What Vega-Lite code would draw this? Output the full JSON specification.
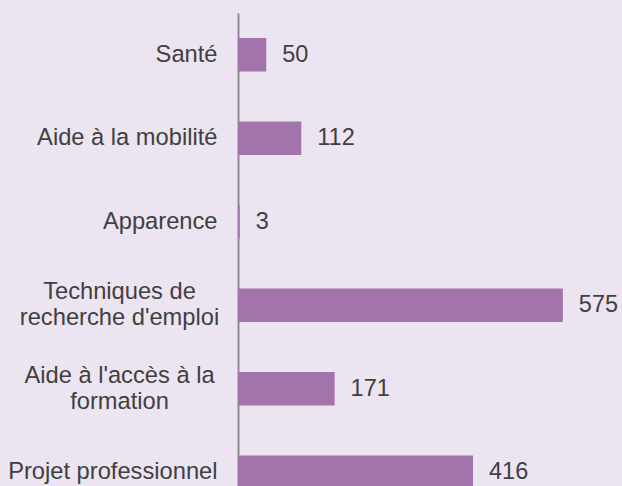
{
  "$schema": "https://vega.github.io/schema/vega-lite/v6.json",
  "autosize": "none",
  "width": 374,
  "height": 501,
  "padding": {"left": 238, "top": 13, "right": 10, "bottom": 0},
  "background": "#ece4f0",
  "config": {"view": {"stroke": null}, "font": "Liberation Sans"},
  "data": {
    "values": [
      {"categorie": "Santé", "valeur": 50},
      {"categorie": "Aide à la mobilité", "valeur": 112},
      {"categorie": "Apparence", "valeur": 3},
      {"categorie": "Techniques de|recherche d'emploi", "valeur": 575},
      {"categorie": "Aide à l'accès à la|formation", "valeur": 171},
      {"categorie": "Projet professionnel", "valeur": 416}
    ]
  },
  "encoding": {
    "y": {
      "field": "categorie",
      "type": "nominal",
      "sort": null,
      "scale": {"paddingInner": 0.6, "paddingOuter": 0.3},
      "axis": {
        "title": null,
        "ticks": false,
        "tickSize": 0,
        "labelPadding": 21,
        "labelFontSize": 23.7,
        "labelColor": "#404040",
        "labelFont": "Liberation Sans",
        "labelLimit": 400,
        "labelLineHeight": 26,
        "labelOverlap": false,
        "labelExpr": "split(datum.value, '|')",
        "labelAlign": {"condition": {"test": "indexof(datum.value, '|') >= 0", "value": "center"}, "value": "right"},
        "labelOffset": {"condition": {"test": "indexof(datum.value, '|') >= 0", "value": -13}, "value": 0},
        "domainColor": "#8c8c8c",
        "domainWidth": 2,
        "encoding": {
          "labels": {
            "dx": {"condition": {"test": "indexof(datum.value, '|') >= 0", "value": -98}, "value": 0}
          }
        }
      }
    },
    "x": {
      "field": "valeur",
      "type": "quantitative",
      "scale": {"domain": [0, 662]},
      "axis": null
    }
  },
  "layer": [
    {"mark": {"type": "bar", "color": "#a274ab"}},
    {
      "mark": {
        "type": "text",
        "align": "left",
        "baseline": "middle",
        "dx": 16,
        "fontSize": 23.5,
        "color": "#404040",
        "font": "Liberation Sans"
      },
      "encoding": {"text": {"field": "valeur", "type": "quantitative"}}
    }
  ]
}
